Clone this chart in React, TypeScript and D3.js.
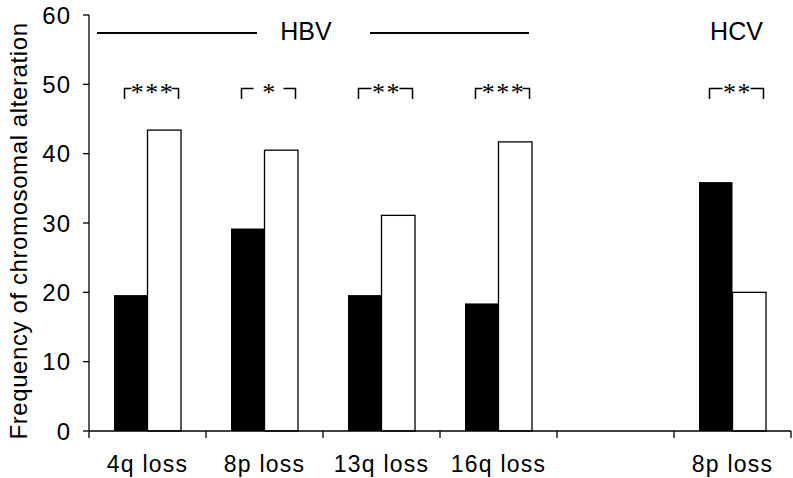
import React from "react";
import * as d3 from "d3";

const categories = ["4q loss", "8p loss", "13q loss", "16q loss", "", "8p loss"];
const withVirus = [19.6, 29.2, 19.6, 18.4, null, 35.9];
const withoutVirus = [43.4, 40.5, 31.1, 41.7, null, 20.0];
const significance = ["***", "*", "**", "***", null, "**"];
const yTicks = [0, 10, 20, 30, 40, 50, 60];
const groupLabels = ["HBV", "HCV"];

const W = 793;
const H = 478;
const M = { left: 89, right: 2, top: 15, bottom: 47 };

export default function App() {
  const y = d3.scaleLinear().domain([0, 60]).range([H - M.bottom, M.top]);
  const x = d3
    .scaleBand<number>()
    .domain(categories.map((_, i) => i))
    .range([M.left, W - M.right])
    .padding(0);
  const inner = d3
    .scaleBand<string>()
    .domain(["virus", "non"])
    .range([0, x.bandwidth()])
    .paddingInner(0)
    .paddingOuter(0.746);
  const bw = inner.bandwidth();
  const y0 = y(0);
  const font = "'Liberation Sans', Arial, Helvetica, sans-serif";
  const boundaries = categories.map((_, i) => x(i)!).concat([x(categories.length - 1)! + x.bandwidth()]);

  const hbvStart = x(0)! + 8;
  const hbvEnd = x(3)! + x.bandwidth() - 28;

  return (
    <div style={{ position: "absolute", left: 0, top: 0 }}>
      <svg width={W} height={H} style={{ display: "block", background: "#fff" }}>
        {/* bars */}
        {categories.map((c, i) => {
          const a = withVirus[i];
          const b = withoutVirus[i];
          if (a == null || b == null) return null;
          const bx = x(i)!;
          return (
            <g key={"bars" + i}>
              <rect x={bx + inner("virus")!} y={y(a)} width={bw} height={y0 - y(a)} fill="#000" />
              <rect
                x={bx + inner("non")!}
                y={y(b)}
                width={bw}
                height={y0 - y(b)}
                fill="#fff"
                stroke="#000"
                strokeWidth={1.3}
              />
            </g>
          );
        })}
        {/* significance brackets */}
        {significance.map((s, i) => {
          if (!s) return null;
          const cx = x(i)! + x.bandwidth() / 2 + 4;
          const half = 27;
          const arm = s.length === 1 ? 12 : s.length === 2 ? 13 : 7;
          const top = 88.5;
          const bot = 99;
          return (
            <g key={"sig" + i} stroke="#000" strokeWidth={1.5} fill="none">
              <path d={`M${cx - half},${bot}V${top}H${cx - half + arm}`} />
              <path d={`M${cx + half},${bot}V${top}H${cx + half - arm}`} />
              <text
                x={cx + 1}
                y={101}
                textAnchor="middle"
                stroke="none"
                fill="#000"
                fontFamily="'Liberation Serif', 'Times New Roman', serif"
                fontSize={26}
                letterSpacing={1.5}
              >
                {s}
              </text>
            </g>
          );
        })}
        {/* group headers */}
        <line x1={hbvStart} x2={hbvStart + 160} y1={33} y2={33} stroke="#000" strokeWidth={2} />
        <line x1={hbvEnd - 159} x2={hbvEnd} y1={33} y2={33} stroke="#000" strokeWidth={2} />
        <text x={306} y={40} textAnchor="middle" fontFamily={font} fontSize={25} fill="#000">
          {groupLabels[0]}
        </text>
        <text x={x(5)! + x.bandwidth() / 2 + 4} y={40} textAnchor="middle" fontFamily={font} fontSize={25} fill="#000">
          {groupLabels[1]}
        </text>
        {/* y axis */}
        <line x1={M.left} x2={M.left} y1={y(60)} y2={y0} stroke="#000" strokeWidth={1.3} />
        {yTicks.map((t) => (
          <g key={"yt" + t}>
            <line x1={M.left - 6} x2={M.left} y1={y(t)} y2={y(t)} stroke="#000" strokeWidth={1.3} />
            <text
              x={71}
              y={y(t) + 8.5}
              textAnchor="end"
              fontFamily={font}
              fontSize={24}
              letterSpacing={1}
              fill="#000"
            >
              {t}
            </text>
          </g>
        ))}
        {/* x axis */}
        <line x1={M.left} x2={W - M.right} y1={y0} y2={y0} stroke="#000" strokeWidth={1.3} />
        {boundaries.map((bx, i) => (
          <line key={"xt" + i} x1={bx} x2={bx} y1={y0} y2={y0 + 7} stroke="#000" strokeWidth={1.3} />
        ))}
        {categories.map((c, i) => (
          <text
            key={"xl" + i}
            x={x(i)! + x.bandwidth() / 2}
            y={472}
            textAnchor="middle"
            fontFamily={font}
            fontSize={23}
            letterSpacing={1.2}
            fill="#000"
          >
            {c}
          </text>
        ))}
        {/* y title */}
        <text
          transform={`translate(27,${(y(60) + y0) / 2 + 8}) rotate(-90)`}
          textAnchor="middle"
          fontFamily={font}
          fontSize={24}
          letterSpacing={0.6}
          fill="#000"
        >
          Frequency of chromosomal alteration
        </text>
      </svg>
    </div>
  );
}
